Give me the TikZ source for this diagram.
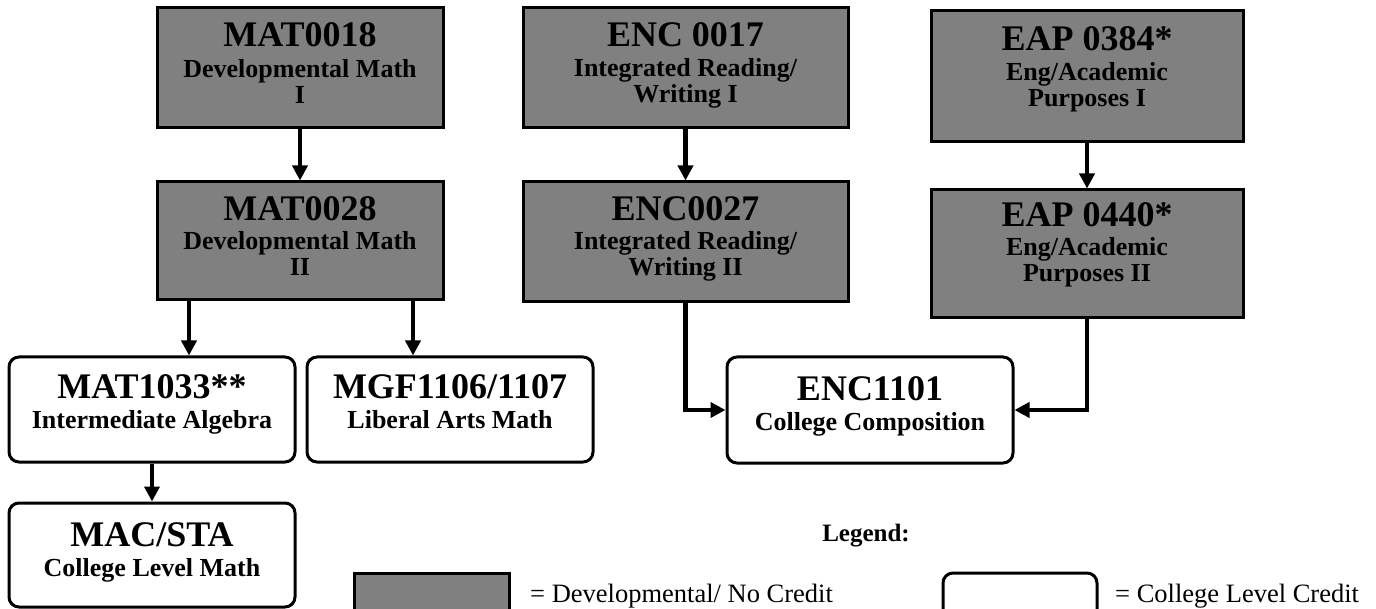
\documentclass[tikz,border=0pt]{standalone}
\usepackage{fontspec}
\setmainfont{Liberation Serif}
\usetikzlibrary{arrows.meta}
\definecolor{devgray}{RGB}{128,128,128}
\begin{document}
\begin{tikzpicture}[x=1pt,y=-1pt,
  dev/.style={draw=black, line width=3pt, fill=devgray, rectangle, inner sep=0pt},
  col/.style={draw=black, line width=3pt, fill=white, rectangle, rounded corners=10pt, inner sep=0pt},
  txt/.style={anchor=base, inner sep=0pt, align=center, font=\fontsize{26}{26}\selectfont\bfseries},
  arr/.style={line width=4.5pt, -{Triangle[width=15pt,length=15pt]}},
  legtxt/.style={anchor=base west, inner sep=0pt, font=\fontsize{26.5}{26.5}\selectfont},
]
\clip (0,0) rectangle (1376,609);
\fill[white] (0,0) rectangle (1376,609);

% developmental boxes
\node[dev, minimum width=286pt, minimum height=120pt] (m18) at (300,68) {};
\node[txt, yshift=-40pt] (m18t) at (m18.north) {\begin{tabular}[t]{@{}c@{}}{\fontsize{36}{36}\selectfont MAT0018}\\[5pt] Developmental Math\\ I\end{tabular}};

\node[dev, minimum width=286pt, minimum height=118pt] (m28) at (300,241) {};
\node[txt, yshift=-40pt] (m28t) at (m28.north) {\begin{tabular}[t]{@{}c@{}}{\fontsize{36}{36}\selectfont MAT0028}\\[3pt] Developmental Math\\ II\end{tabular}};

\node[dev, minimum width=325pt, minimum height=120pt] (e17) at (685.5,68) {};
\node[txt, yshift=-40pt] (e17t) at (e17.north) {\begin{tabular}[t]{@{}c@{}}{\fontsize{36}{36}\selectfont ENC 0017}\\[4pt] Integrated Reading/\\ Writing I\end{tabular}};

\node[dev, minimum width=325pt, minimum height=120pt] (e27) at (685.5,242) {};
\node[txt, yshift=-40pt] (e27t) at (e27.north) {\begin{tabular}[t]{@{}c@{}}{\fontsize{36}{36}\selectfont ENC0027}\\[3pt] Integrated Reading/\\ Writing II\end{tabular}};

\node[dev, minimum width=312pt, minimum height=131pt] (ea1) at (1087,76.5) {};
\node[txt, yshift=-41pt] (ea1t) at (ea1.north) {\begin{tabular}[t]{@{}c@{}}{\fontsize{36}{36}\selectfont EAP 0384*}\\[4pt] Eng/Academic\\ Purposes I\end{tabular}};

\node[dev, minimum width=312pt, minimum height=128pt] (ea2) at (1087,254) {};
\node[txt, yshift=-38pt] (ea2t) at (ea2.north) {\begin{tabular}[t]{@{}c@{}}{\fontsize{36}{36}\selectfont EAP 0440*}\\[3pt] Eng/Academic\\ Purposes II\end{tabular}};

% college level boxes
\node[col, minimum width=286pt, minimum height=105pt] (m33) at (152,409.5) {};
\node[txt, yshift=-43pt] (m33t) at (m33.north) {\begin{tabular}[t]{@{}c@{}}{\fontsize{36}{36}\selectfont MAT1033**}\\[4pt] Intermediate Algebra\end{tabular}};

\node[col, minimum width=286pt, minimum height=105pt] (mgf) at (450,409.5) {};
\node[txt, yshift=-43pt] (mgft) at (mgf.north) {\begin{tabular}[t]{@{}c@{}}{\fontsize{36}{36}\selectfont MGF1106/1107}\\[4pt] Liberal Arts Math\end{tabular}};

\node[col, minimum width=286pt, minimum height=106pt] (enc) at (870,410) {};
\node[txt, yshift=-45pt] (enct) at (enc.north) {\begin{tabular}[t]{@{}c@{}}{\fontsize{36}{36}\selectfont ENC1101}\\[4pt] College Composition\end{tabular}};

\node[col, minimum width=286pt, minimum height=104pt] (mac) at (152,555) {};
\node[txt, yshift=-45pt] (mact) at (mac.north) {\begin{tabular}[t]{@{}c@{}}{\fontsize{36}{36}\selectfont MAC/STA}\\[4pt] College Level Math\end{tabular}};

% connectors
\draw[arr] (m18.south) -- (m28.north);
\draw[arr] ([xshift=-111pt]m28.south) -- ([xshift=-111pt]m28.south |- m33.north);
\draw[arr] ([xshift=113pt]m28.south) -- ([xshift=113pt]m28.south |- mgf.north);
\draw[arr] (m33.south) -- (mac.north);
\draw[arr] (e17.south) -- (e27.north);
\draw[arr] (e27.south) |- (enc.west);
\draw[arr] (ea1.south) -- (ea2.north);
\draw[arr] (ea2.south) |- (enc.east);

% legend
\node[anchor=base east, inner sep=0pt, font=\fontsize{25}{25}\selectfont\bfseries] (leg) at (910,541) {Legend:};
\node[dev, minimum width=155pt, minimum height=67pt] (legdev) at (431.5,606.5) {};
\node[legtxt] (legdevt) at (530,602) {= Developmental/ No Credit};
\node[col, minimum width=154pt, minimum height=67pt] (legcol) at (1020,606.5) {};
\node[legtxt] (legcolt) at (1115,602) {= College Level Credit};
\end{tikzpicture}
\end{document}
